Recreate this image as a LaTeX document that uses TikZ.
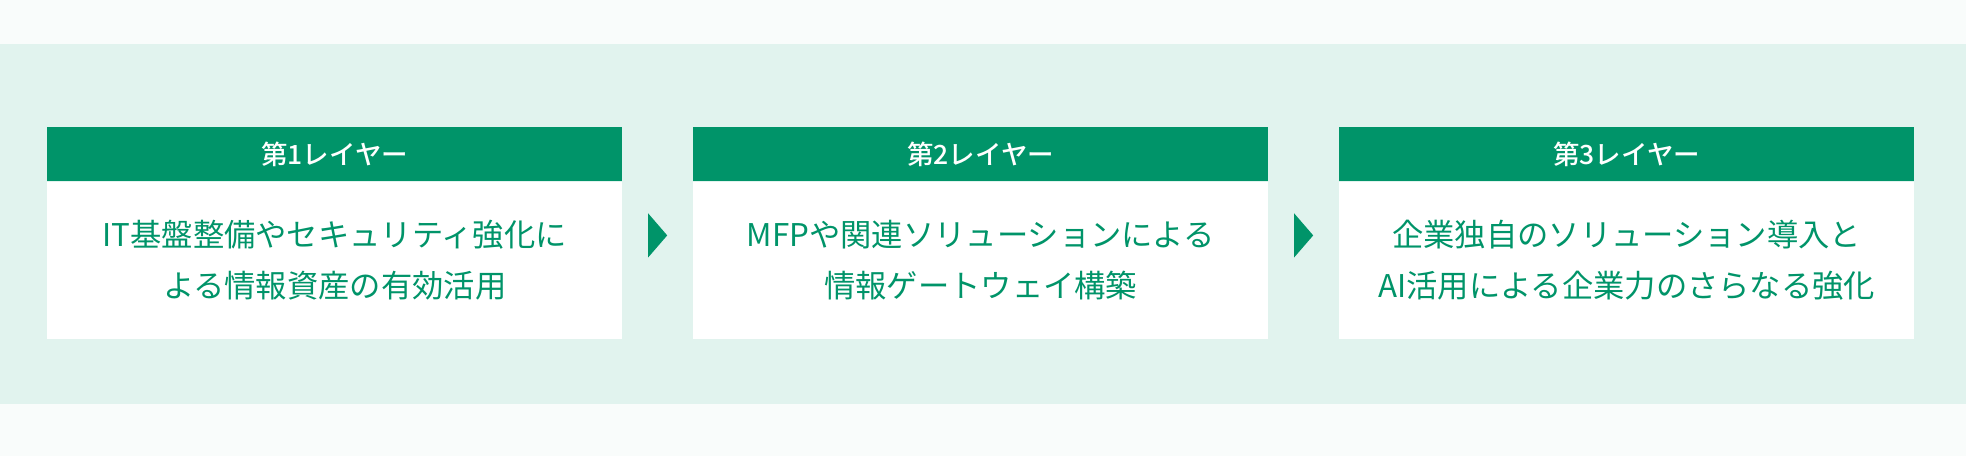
\documentclass[tikz,border=0pt]{standalone}
\usepackage{fontspec}
\usetikzlibrary{calc}
\newfontfamily\jp{Noto Sans CJK JP}
\newfontfamily\jpm{Noto Sans CJK JP Medium}
\definecolor{brand}{HTML}{009469}
\definecolor{bandbg}{HTML}{E1F3EE}
\definecolor{outerbg}{HTML}{F9FCFB}
\tikzset{
  headbox/.style={fill=brand, text=white, minimum width=575pt, minimum height=54pt,
    inner sep=0pt, anchor=north west, font=\jpm\fontsize{26.5}{30}\selectfont},
  bodybox/.style={fill=white, text=brand, minimum width=575pt, minimum height=157pt,
    inner sep=0pt, anchor=north west, align=center, font=\jp\fontsize{31.3}{51}\selectfont},
  tri/.style={fill=brand}
}
\begin{document}
\begin{tikzpicture}[x=1pt,y=-1pt]
\fill[outerbg] (0,0) rectangle (1966,456);
\fill[bandbg] (0,44) rectangle (1966,404);
\useasboundingbox (0,0) rectangle (1966,456);
\node[headbox] (h1) at (47,127) {第1レイヤー};
\node[bodybox] (b1) at (h1.south west) {IT基盤整備やセキュリティ強化に\\よる情報資産の有効活用};
\node[headbox] (h2) at (693,127) {第2レイヤー};
\node[bodybox] (b2) at (h2.south west) {MFPや関連ソリューションによる\\情報ゲートウェイ構築};
\node[headbox] (h3) at (1339,127) {第3レイヤー};
\node[bodybox] (b3) at (h3.south west) {企業独自のソリューション導入と\\AI活用による企業力のさらなる強化};
\coordinate (m1) at ($(h1.north east)!0.5!(b2.south west)$);
\coordinate (m2) at ($(h2.north east)!0.5!(b3.south west)$);
\foreach \m in {m1,m2}{
  \fill[tri] ($(\m)+(-9.5,-19.5)$) -- ($(\m)+(9.5,2.5)$) -- ($(\m)+(-9.5,24.5)$) -- cycle;
}
\end{tikzpicture}
\end{document}
